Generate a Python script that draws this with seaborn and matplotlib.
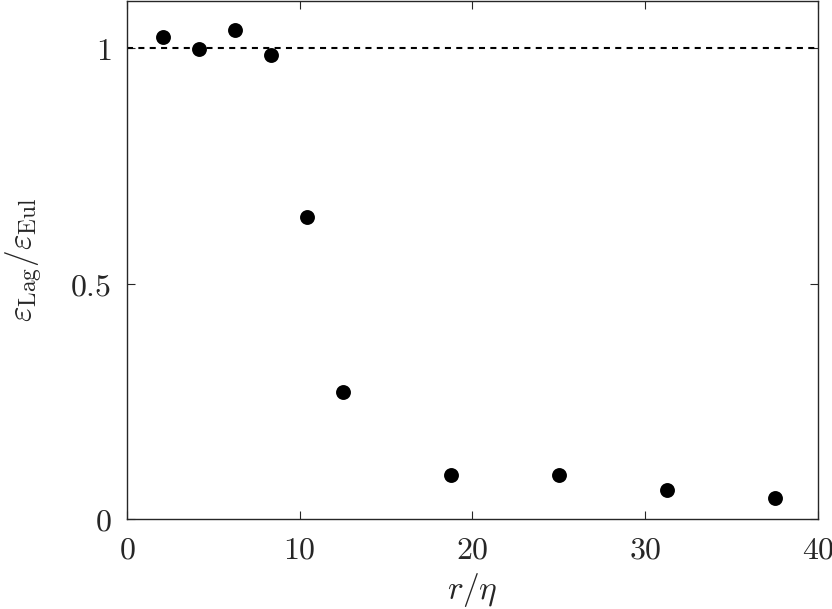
import numpy as np
import pandas as pd
import matplotlib
matplotlib.use("Agg")
import matplotlib.pyplot as plt
import seaborn as sns

# r/eta separations and ratio of Lagrangian to Eulerian dissipation
r_eta = [2.083, 4.167, 6.25, 8.333, 10.417, 12.5, 18.75, 25.0, 31.25, 37.5]
eps_ratio = [1.023, 0.998, 1.038, 0.985, 0.642, 0.269, 0.093, 0.093, 0.061, 0.044]

x_ticks = [0, 10, 20, 30, 40]
y_ticks = [0, 0.5, 1]
y_tick_labels = ["0", "0.5", "1"]

sns.set_style("ticks")
plt.rcParams["mathtext.fontset"] = "cm"
plt.rcParams["font.family"] = ["DejaVu Serif"]

df = pd.DataFrame({"r": r_eta, "eps": eps_ratio})

fig = plt.figure(figsize=(8.32, 6.09), dpi=100)
ax = fig.add_axes([0.1526, 0.1478, 0.8305, 0.8505])

ax.axhline(1.0, color="black", linestyle=(0, (2.9, 2.55)), linewidth=1.5, zorder=1)
sns.scatterplot(data=df, x="r", y="eps", ax=ax, color="black", s=115,
                edgecolor="black", linewidth=0, zorder=3)

ax.set_xlim(0, 40)
ax.set_ylim(0, 1.1)
ax.set_xticks(x_ticks)
ax.set_xticklabels([f"${t}$" for t in x_ticks])
ax.set_yticks(y_ticks)
ax.set_yticklabels([f"${t}$" for t in y_tick_labels])
ax.tick_params(direction="in", length=6, width=0.8, top=True, right=True,
               labelsize=23, pad=11)
for s in ax.spines.values():
    s.set_linewidth(1.0)

ax.set_xlabel(r"$r/\eta$", fontsize=24, labelpad=4)
ax.set_ylabel(r"$\varepsilon_{\rm Lag}/\varepsilon_{\rm Eul}$", fontsize=24, labelpad=18)

fig.savefig("out.png", dpi=100)
